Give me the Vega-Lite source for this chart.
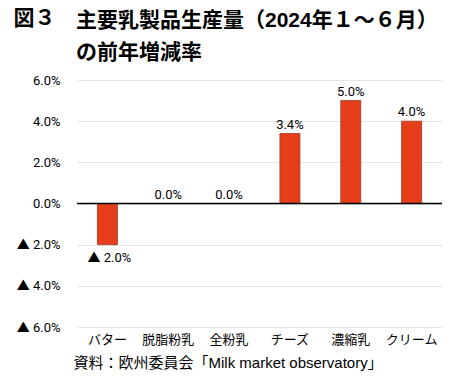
{
  "$schema": "https://vega.github.io/schema/vega-lite/v6.json",
  "width": 365,
  "height": 247,
  "autosize": {"type": "none"},
  "padding": {"left": 77, "top": 80, "right": 8, "bottom": 56},
  "background": "white",
  "title": {
    "text": ["主要乳製品生産量（2024年１～６月）", "の前年増減率"],
    "anchor": "start",
    "frame": "group",
    "dx": -1,
    "dy": 68,
    "offset": 12,
    "fontSize": 21,
    "fontWeight": "bold",
    "font": "Liberation Sans, Noto Sans CJK JP",
    "color": "#000000",
    "lineHeight": 32
  },
  "data": {
    "values": [
      {"item": "バター", "value": -2.0, "label": "▲ 2.0%"},
      {"item": "脱脂粉乳", "value": 0.0, "label": "0.0%"},
      {"item": "全粉乳", "value": 0.0, "label": "0.0%"},
      {"item": "チーズ", "value": 3.4, "label": "3.4%"},
      {"item": "濃縮乳", "value": 5.0, "label": "5.0%"},
      {"item": "クリーム", "value": 4.0, "label": "4.0%"}
    ]
  },
  "config": {
    "view": {"stroke": null},
    "font": "Liberation Sans, Noto Sans CJK JP"
  },
  "layer": [
    {
      "mark": {"type": "bar", "width": 20, "fill": "#E63E1A", "stroke": "#9B3A22", "strokeWidth": 0.8},
      "encoding": {
        "x": {
          "field": "item", "type": "nominal", "sort": null,
          "scale": {"paddingInner": 0, "paddingOuter": 0},
          "axis": {
            "title": "資料：欧州委員会「Milk market observatory」",
            "titleX": -4, "titleY": 35, "titleAlign": "left", "titleAnchor": "start",
            "titleBaseline": "middle", "titleFontSize": 15, "titleFontWeight": "normal",
            "titleColor": "#000000",
            "labelFontSize": 13, "labelColor": "#000000", "labelPadding": 6,
            "labelAngle": 0, "ticks": false, "domain": false, "grid": false
          }
        },
        "y": {
          "field": "value", "type": "quantitative",
          "scale": {"domain": [-6, 6], "nice": false},
          "axis": {
            "title": "図３",
            "titleAngle": 0, "titleX": -64, "titleY": -56,
            "titleAlign": "left", "titleBaseline": "alphabetic", "titleAnchor": "start",
            "titleFontSize": 21, "titleFontWeight": "bold", "titleColor": "#000000",
            "titleFont": "Liberation Sans, Noto Sans CJK JP",
            "values": [-6, -4, -2, 0, 2, 4, 6],
            "labelExpr": "datum.value < 0 ? '▲ ' + format(-datum.value, '.1f') + '%' : format(datum.value, '.1f') + '%'",
            "labelFont": "Roboto, Noto Sans CJK JP",
            "labelFontSize": 13, "labelColor": "#000000", "labelPadding": 17,
            "ticks": false, "domain": false,
            "grid": true, "gridColor": "#E6E6E6", "gridWidth": 1
          }
        }
      }
    },
    {
      "data": {"values": [{"z": 0}]},
      "mark": {"type": "rule", "color": "#000000", "strokeWidth": 1.5},
      "encoding": {"y": {"field": "z", "type": "quantitative"}}
    },
    {
      "transform": [{"filter": "datum.value >= 0"}],
      "mark": {"type": "text", "baseline": "alphabetic", "dy": -5, "fontSize": 13, "color": "#000000", "font": "Roboto, Noto Sans CJK JP"},
      "encoding": {
        "x": {"field": "item", "type": "nominal", "sort": null},
        "y": {"field": "value", "type": "quantitative"},
        "text": {"field": "label"}
      }
    },
    {
      "transform": [{"filter": "datum.value < 0"}],
      "mark": {"type": "text", "baseline": "top", "dy": 7, "dx": 2, "fontSize": 13, "color": "#000000", "font": "Roboto, Noto Sans CJK JP"},
      "encoding": {
        "x": {"field": "item", "type": "nominal", "sort": null},
        "y": {"field": "value", "type": "quantitative"},
        "text": {"field": "label"}
      }
    }
  ]
}
